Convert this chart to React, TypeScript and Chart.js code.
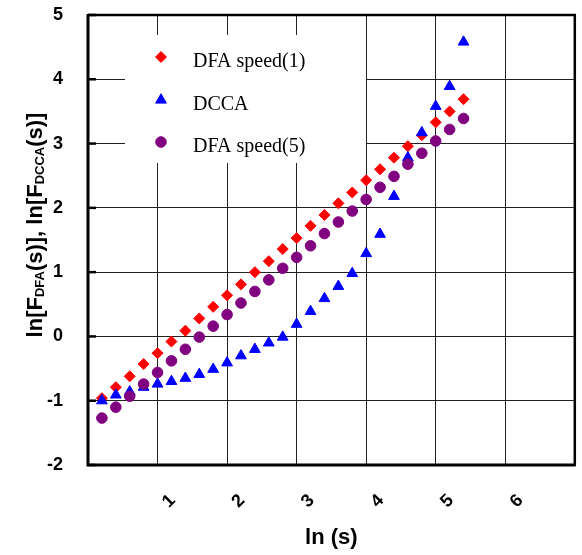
import React, { useEffect, useRef } from "react";
import { Chart, registerables } from "chart.js";

Chart.register(...registerables);

// ---- data ----
const lnS = [0.2, 0.4, 0.6, 0.8, 1.0, 1.2, 1.4, 1.6, 1.8, 2.0, 2.2, 2.4, 2.6, 2.8, 3.0, 3.2, 3.4, 3.6, 3.8, 4.0, 4.2, 4.4, 4.6, 4.8, 5.0, 5.2, 5.4];
const dfaSpeed1 = [-0.96, -0.79, -0.62, -0.43, -0.26, -0.08, 0.09, 0.28, 0.46, 0.64, 0.81, 1.0, 1.17, 1.36, 1.53, 1.72, 1.89, 2.07, 2.24, 2.43, 2.6, 2.78, 2.96, 3.13, 3.33, 3.5, 3.69];
const dcca = [-1.0, -0.91, -0.86, -0.79, -0.74, -0.7, -0.65, -0.59, -0.51, -0.41, -0.3, -0.2, -0.1, -0.01, 0.19, 0.39, 0.59, 0.78, 0.98, 1.29, 1.59, 2.18, 2.78, 3.17, 3.58, 3.89, 4.58];
const dfaSpeed5 = [-1.27, -1.1, -0.93, -0.74, -0.56, -0.38, -0.2, -0.01, 0.16, 0.34, 0.52, 0.7, 0.88, 1.06, 1.23, 1.41, 1.6, 1.78, 1.95, 2.13, 2.32, 2.49, 2.68, 2.85, 3.04, 3.22, 3.39];
const seriesNames = ["DFA speed(1)", "DCCA", "DFA speed(5)"];
const xLabels = ["1", "2", "3", "4", "5", "6"];
const xTitle = "ln (s)";
const yTitleParts: [string, boolean][] = [
  ["ln[F", false],
  ["DFA", true],
  ["(s)], ln[F", false],
  ["DCCA", true],
  ["(s)]", false],
];

const RED = "#ff0000";
const BLUE = "#0000ff";
const PURPLE = "#800080";

const styles = [
  { color: RED, pointStyle: "rectRot", radius: 5.5 },
  { color: BLUE, pointStyle: "triangle", radius: 6.2 },
  { color: PURPLE, pointStyle: "circle", radius: 5.3 },
];

function drawMarker(ctx: CanvasRenderingContext2D, style: string, x: number, y: number, r: number, color: string) {
  ctx.save();
  ctx.fillStyle = color;
  ctx.strokeStyle = color;
  ctx.lineWidth = 1;
  ctx.beginPath();
  if (style === "rectRot") {
    ctx.moveTo(x - r, y);
    ctx.lineTo(x, y - r);
    ctx.lineTo(x + r, y);
    ctx.lineTo(x, y + r);
    ctx.closePath();
  } else if (style === "triangle") {
    ctx.moveTo(x, y - r);
    ctx.lineTo(x + r * Math.cos(Math.PI / 6), y + r * 0.5);
    ctx.lineTo(x - r * Math.cos(Math.PI / 6), y + r * 0.5);
    ctx.closePath();
  } else {
    ctx.arc(x, y, r, 0, Math.PI * 2);
  }
  ctx.fill();
  ctx.stroke();
  ctx.restore();
}

const decor = {
  id: "decor",
  beforeDatasetsDraw(chart: any) {
    const ctx = chart.ctx as CanvasRenderingContext2D;
    const a = chart.chartArea;
    // white legend box covering the grid
    ctx.save();
    ctx.fillStyle = "#ffffff";
    ctx.fillRect(a.left + 37, a.top + 20, 241, 128);
    ctx.restore();
  },
  afterDraw(chart: any) {
    const ctx = chart.ctx as CanvasRenderingContext2D;
    const a = chart.chartArea;
    const ys = chart.scales.y;
    ctx.save();
    // frame
    ctx.strokeStyle = "#000";
    ctx.lineWidth = 2.5;
    ctx.beginPath();
    ctx.moveTo(a.left, a.top);
    ctx.lineTo(a.right, a.top);
    ctx.lineTo(a.right, a.bottom);
    ctx.stroke();
    ctx.lineWidth = 3;
    ctx.beginPath();
    ctx.moveTo(a.left, a.top - 1);
    ctx.lineTo(a.left, a.bottom);
    ctx.lineTo(a.right + 1, a.bottom);
    ctx.stroke();
    // small inner ticks on left axis
    ctx.lineWidth = 2.5;
    for (const t of ys.ticks) {
      const py = ys.getPixelForValue(t.value);
      ctx.beginPath();
      ctx.moveTo(a.left, py);
      ctx.lineTo(a.left + 8, py);
      ctx.stroke();
    }

    // legend
    const legendX = a.left + 73;
    const textX = a.left + 105;
    const rowY = [a.top + 42, a.top + 85, a.top + 127];
    ctx.font = '20px "Liberation Serif", "Times New Roman", serif';
    ctx.fillStyle = "#000";
    ctx.textAlign = "left";
    ctx.textBaseline = "alphabetic";
    seriesNames.forEach((name, i) => {
      const s = styles[i];
      drawMarker(ctx, s.pointStyle, legendX, rowY[i], s.radius, s.color);
      ctx.fillStyle = "#000";
      ctx.fillText(name, textX, rowY[i] + 9.5);
    });

    // x title
    ctx.font = 'bold 22px "Liberation Sans", Arial, sans-serif';
    ctx.textAlign = "center";
    ctx.fillText(xTitle, (a.left + a.right) / 2, a.bottom + 79);

    // y title with subscripts
    const mainFont = 'bold 22px "Liberation Sans", Arial, sans-serif';
    const subFont = 'bold 13px "Liberation Sans", Arial, sans-serif';
    let total = 0;
    const widths = yTitleParts.map(([t, sub]) => {
      ctx.font = sub ? subFont : mainFont;
      const w = ctx.measureText(t).width;
      total += w;
      return w;
    });
    ctx.translate(42, 225);
    ctx.rotate(-Math.PI / 2);
    ctx.textAlign = "left";
    let x = -total / 2;
    yTitleParts.forEach(([t, sub], i) => {
      ctx.font = sub ? subFont : mainFont;
      ctx.fillText(t, x, sub ? 2 : 0);
      x += widths[i];
    });
    ctx.restore();
  },
};

export default function App() {
  const ref = useRef<HTMLCanvasElement | null>(null);
  useEffect(() => {
    if (!ref.current) return;
    const series = [dfaSpeed1, dcca, dfaSpeed5];
    const datasets = series.map((vals, i) => ({
      label: seriesNames[i],
      data: lnS.map((x, j) => ({ x, y: vals[j] })),
      pointStyle: styles[i].pointStyle as any,
      pointRadius: styles[i].radius,
      pointBackgroundColor: styles[i].color,
      pointBorderColor: styles[i].color,
      pointBorderWidth: 1,
      showLine: false,
      order: 2 - i,
    }));
    const tickFont = { family: '"Liberation Sans", Arial, sans-serif', size: 18, weight: "bold" as const };
    const chart = new Chart(ref.current, {
      type: "scatter",
      data: { datasets },
      plugins: [decor],
      options: {
        animation: false,
        responsive: false,
        layout: { padding: { left: 0, right: 4, top: 15, bottom: 0 } },
        plugins: { legend: { display: false }, tooltip: { enabled: false } },
        scales: {
          x: {
            type: "linear",
            min: 0,
            max: 7,
            afterFit(scale: any) {
              scale.height = 90;
              scale.paddingLeft = 0;
              scale.paddingRight = 0;
              scale.paddingTop = 0;
              scale.paddingBottom = 0;
            },
            ticks: {
              stepSize: 1,
              minRotation: 45,
              maxRotation: 45,
              padding: 25,
              labelOffset: 15,
              color: "#000",
              font: tickFont,
              callback: (v: any) => {
                const idx = Number(v) - 1;
                return idx >= 0 && idx < xLabels.length ? xLabels[idx] : "";
              },
            },
            grid: { color: "#222", lineWidth: 1, drawTicks: false },
            border: { display: false },
          },
          y: {
            type: "linear",
            min: -2,
            max: 5,
            afterFit(scale: any) {
              scale.width = 88;
              scale.paddingLeft = 0;
              scale.paddingRight = 0;
              scale.paddingTop = 0;
              scale.paddingBottom = 0;
            },
            ticks: {
              stepSize: 1,
              padding: 25,
              color: "#000",
              font: tickFont,
            },
            grid: { color: "#222", lineWidth: 1, drawTicks: false },
            border: { display: false },
          },
        },
      },
    });
    return () => chart.destroy();
  }, []);
  return (
    <div style={{ position: "absolute", left: 0, top: 0, width: 582, height: 555 }}>
      <canvas ref={ref} width={582} height={555} />
    </div>
  );
}
